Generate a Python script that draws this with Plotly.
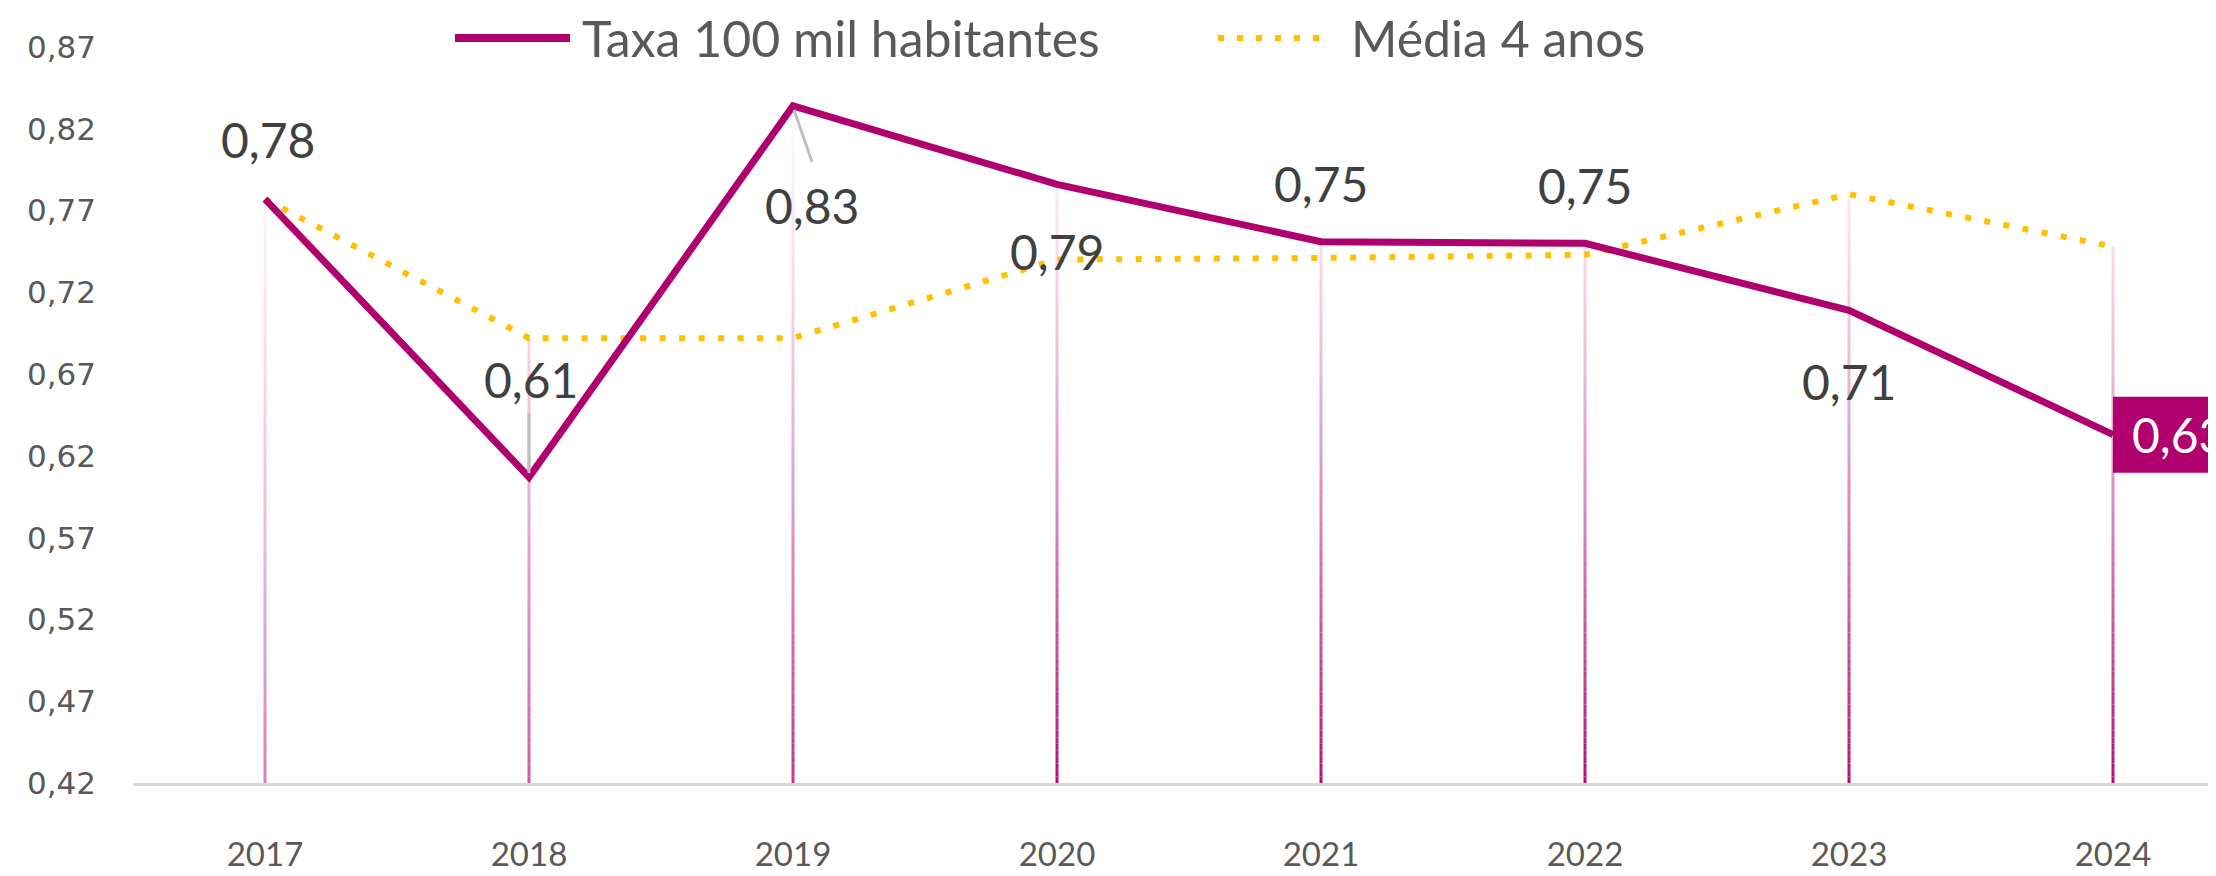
import plotly.graph_objects as go

# ---------------- data ----------------
years = ["2017", "2018", "2019", "2020", "2021", "2022", "2023", "2024"]
taxa = [0.777, 0.607, 0.834, 0.786, 0.751, 0.750, 0.709, 0.633]
media4 = [0.777, 0.692, 0.692, 0.740, 0.741, 0.743, 0.780, 0.748]
y_ticks = [0.42, 0.47, 0.52, 0.57, 0.62, 0.67, 0.72, 0.77, 0.82, 0.87]
series_names = ["Taxa 100 mil habitantes", "Média 4 anos"]

# ---------------- style ----------------
W, H = 2216, 876
OFF = 8  # the page body adds an 8px margin; compensate so the chart lands where intended
PLOT_LEFT, PLOT_TOP, PLOT_BOTTOM = 133 - OFF, 47 - OFF, 783 - OFF
ML, MR, MT, MB = PLOT_LEFT, 0, PLOT_TOP, H - PLOT_BOTTOM
UNIT = 264.0
YMIN, YMAX = y_ticks[0], y_ticks[-1]
MAGENTA = "#B0006E"
GOLD = "#FFC000"
LABEL = "#404040"
TICK = "#595959"
FONT = "Lato"

PW = W - ML - MR
PH = H - MT - MB
XMAX = -0.5 + PW / UNIT


def px_to_paper_x(page_px):
    return (page_px - OFF - ML) / PW


def px_to_paper_y(page_py):
    return (H - MB - (page_py - OFF)) / PH


# category positions (index along the category axis)
xpos = list(range(len(years)))

fig = go.Figure()

# drop lines with gradient (drawn as short stacked segments)
shapes = []
step = 0.004
for i in xpos:
    top = max(taxa[i], media4[i])
    strength = min(0.95, 0.5 + 0.15 * i)
    y0 = YMIN
    while y0 < top - 1e-9:
        y1 = min(y0 + step, top)
        mid = (y0 + y1) / 2
        t = (YMAX - mid) / (YMAX - YMIN)
        alpha = strength * t ** 1.5
        shapes.append(dict(type="line", xref="x", yref="y", x0=i, x1=i, y0=y0, y1=y1,
                           line=dict(color=f"rgba(176,0,110,{alpha:.3f})", width=3),
                           layer="below"))
        y0 = y1

# leader lines for two labels
shapes.append(dict(type="line", xref="x", yref="y", xsizemode="pixel", ysizemode="pixel",
                   xanchor=xpos[1], yanchor=taxa[1], x0=0, x1=0, y0=4, y1=64,
                   line=dict(color="#BFBFBF", width=3)))
shapes.append(dict(type="line", xref="x", yref="y", xsizemode="pixel", ysizemode="pixel",
                   xanchor=xpos[2], yanchor=taxa[2], x0=1, x1=19, y0=-4, y1=-56,
                   line=dict(color="#BFBFBF", width=3)))

# highlight box behind the last label
shapes.append(dict(type="rect", xref="x", yref="y", xsizemode="pixel", ysizemode="pixel",
                   xanchor=xpos[-1], yanchor=taxa[-1], x0=0, x1=160, y0=-38, y1=38,
                   fillcolor=MAGENTA, line=dict(width=0)))

# manual legend
LEG_Y = 38
shapes.append(dict(type="line", xref="paper", yref="paper",
                   x0=px_to_paper_x(455), x1=px_to_paper_x(570),
                   y0=px_to_paper_y(LEG_Y), y1=px_to_paper_y(LEG_Y),
                   line=dict(color=MAGENTA, width=8)))
shapes.append(dict(type="line", xref="paper", yref="paper",
                   x0=px_to_paper_x(1218), x1=px_to_paper_x(1330),
                   y0=px_to_paper_y(LEG_Y), y1=px_to_paper_y(LEG_Y),
                   line=dict(color=GOLD, width=6, dash="6px,13px")))

fig.add_trace(go.Scatter(x=xpos, y=media4, mode="lines", name=series_names[1],
                         line=dict(color=GOLD, width=6, dash="6px,13.5px"),
                         showlegend=False, hoverinfo="skip"))
fig.add_trace(go.Scatter(x=xpos, y=taxa, mode="lines", name=series_names[0],
                         line=dict(color=MAGENTA, width=7),
                         showlegend=False, hoverinfo="skip"))


def fmt(v):
    return f"{v:.2f}".replace(".", ",")


# label offsets (pixels) relative to each point
offsets = [(3, 60), (2, 98), (19, -100), (0, -67), (0, 58), (0, 58), (0, -71)]
annotations = []
for i, (dx, dy) in enumerate(offsets):
    annotations.append(dict(x=xpos[i], y=taxa[i], xref="x", yref="y", text=fmt(taxa[i]),
                            showarrow=False, xshift=dx, yshift=dy,
                            font=dict(family=FONT, size=48, color=LABEL)))
# highlighted last label text
annotations.append(dict(x=xpos[-1], y=taxa[-1], xref="x", yref="y", text=fmt(taxa[-1]),
                        showarrow=False, xanchor="left", yanchor="middle", xshift=17,
                        font=dict(family=FONT, size=48, color="#FFFFFF")))
# legend texts
annotations.append(dict(x=px_to_paper_x(580), y=px_to_paper_y(LEG_Y), xref="paper", yref="paper",
                        text=series_names[0], showarrow=False, xanchor="left", yanchor="middle",
                        font=dict(family=FONT, size=50, color=TICK)))
annotations.append(dict(x=px_to_paper_x(1349), y=px_to_paper_y(LEG_Y), xref="paper", yref="paper",
                        text=series_names[1], showarrow=False, xanchor="left", yanchor="middle",
                        font=dict(family=FONT, size=50, color=TICK)))

fig.update_layout(
    width=W, height=H,
    margin=dict(l=ML, r=MR, t=MT, b=MB, pad=0, autoexpand=False),
    paper_bgcolor="white", plot_bgcolor="white",
    separators=",.",
    shapes=shapes, annotations=annotations,
    showlegend=False,
    xaxis=dict(range=[-0.5, XMAX], tickvals=xpos, ticktext=years,
               showgrid=False, zeroline=False, automargin=False,
               showline=True, linecolor="#D9D9D9", linewidth=3,
               ticks="", ticklabelstandoff=40,
               tickfont=dict(family=FONT, size=33, color=TICK)),
    yaxis=dict(range=[YMIN, YMAX], tickvals=y_ticks, tickformat=".2f",
               showgrid=False, zeroline=False, showline=False, ticks="",
               automargin=False, ticklabelstandoff=36,
               tickfont=dict(family="DejaVu Sans", size=31, color=TICK)),
)

fig.write_html("out.html")
